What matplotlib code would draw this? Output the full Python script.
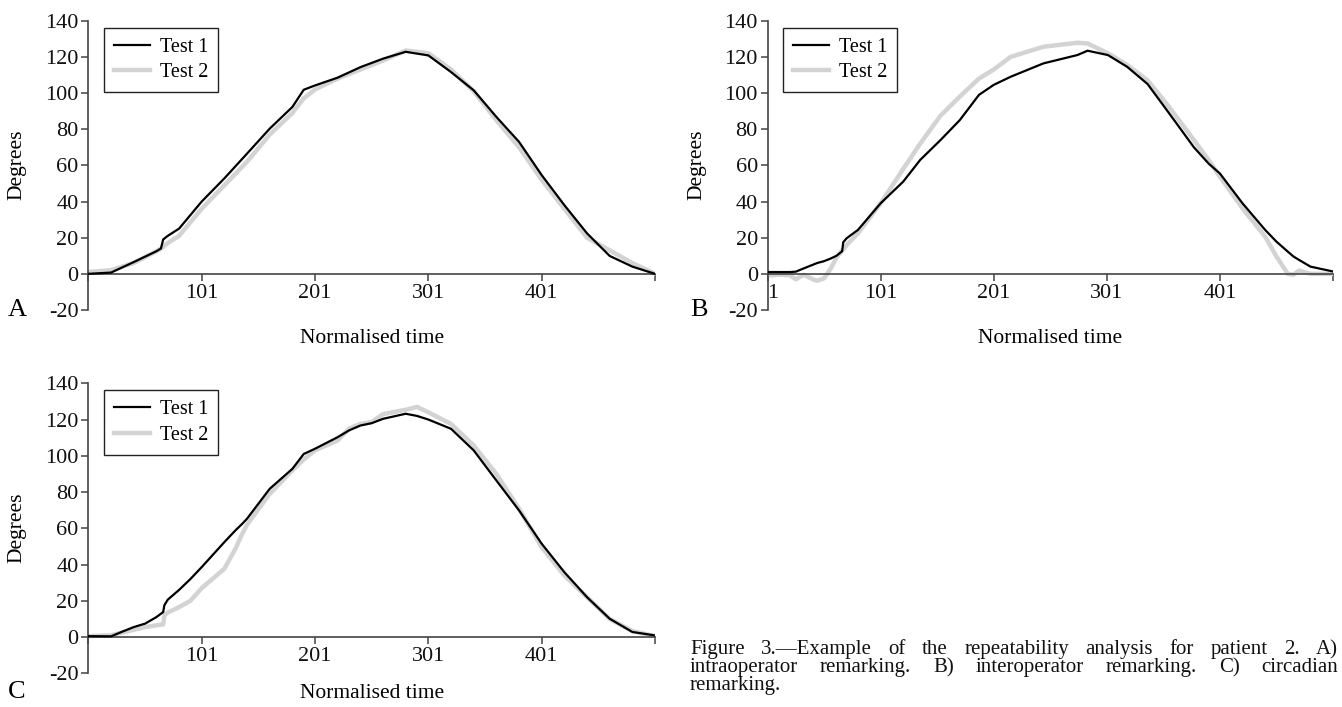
import matplotlib
matplotlib.use('Agg')
import matplotlib.pyplot as plt

plt.rcParams['font.family'] = ['Liberation Serif', 'DejaVu Serif']
plt.rcParams['axes.unicode_minus'] = False

# panel A - intraoperator
t_a = [1, 21, 41, 61, 65, 67, 71, 81, 101, 121, 141, 161, 181, 191, 201, 221, 241, 261,
       281, 301, 321, 341, 361, 381, 401, 421, 441, 461, 481, 501]
a_test1 = [0, 0.7, 6.5, 12.5, 14, 19, 21, 25, 40, 52.8, 66.5, 80.3, 92.3, 101.8, 104.2, 108.5,
           114.3, 119, 122.8, 120.8, 111.6, 101.5, 86.8, 73, 54.6, 38, 22.4, 9.9, 4, 0]
a_test2 = [1, 2, 6, 12.5, 14, 15, 17, 21, 36, 49, 62, 77, 89, 97, 102, 108, 113, 118,
           123.5, 122, 113, 101, 85, 70, 52, 36, 20, 13, 6, 0]

# panel B - interoperator
t_b = [1, 11, 21, 26, 33, 41, 45, 51, 57, 62, 67, 68, 71, 81, 101, 121, 136, 154, 171, 188,
       201, 216, 245, 275, 284, 302, 319, 337, 354, 378, 391, 401, 421, 441, 451, 461, 466,
       471, 481, 501]
b_test1 = [1, 1, 1, 1.2, 3, 5, 6, 7, 8.5, 10, 12.5, 17.5, 19.7, 24.3, 39, 51, 63, 74, 85, 99,
           104.5, 109, 116.4, 121, 123.4, 121, 114.5, 105, 90.6, 70, 61, 55.5, 39, 24.3, 17.8,
           12.3, 9.6, 7.7, 4, 1.3]
b_test2 = [-1, -0.5, -0.8, -3, -0.5, -3, -3.8, -2.5, 3, 9, 13, 13.5, 16, 22.4, 39, 58, 72,
           87.5, 98, 108, 113, 120, 125.6, 127.8, 127.4, 122, 115.5, 107, 94, 74, 63, 53.7,
           36.2, 20.6, 9.6, 0, -0.5, 1.8, 0, 0]

# panel C - circadian
t_c = [1, 21, 31, 41, 51, 61, 67, 68, 71, 81, 91, 101, 121, 131, 136, 141, 161, 181, 191,
       201, 221, 231, 241, 251, 261, 281, 291, 301, 321, 341, 361, 381, 401, 421, 441, 461,
       481, 501]
c_test1 = [0.5, 0.4, 3, 5.5, 7.4, 11, 13.8, 17.5, 20.6, 26, 32, 38.6, 52.4, 59, 62, 65.3,
           81.8, 92.8, 101, 103.9, 110.3, 114, 116.7, 118, 120.4, 123.2, 122, 120, 114.9, 103,
           86.4, 69.9, 51.5, 35.8, 22, 10.1, 2.8, 0.9]
c_test2 = [0.5, 1, 2.5, 4, 5.5, 6.5, 7, 12, 13.5, 16.5, 20, 27, 37.7, 49, 56, 62, 79, 92,
           98, 103, 108.5, 115, 117.6, 118.6, 123, 125.4, 127, 124, 117.6, 105.7, 90, 70.8,
           49.6, 34, 22, 10, 3.3, 0.5]

xticks = [1, 101, 201, 301, 401, 501]
yticks = [-20, 0, 20, 40, 60, 80, 100, 120, 140]
caption = ["Figure 3.\u2014Example of the repeatability analysis for patient 2. A)",
           "intraoperator remarking. B) interoperator remarking. C) circadian",
           "remarking."]

W, H = 1342, 707
fig = plt.figure(figsize=(W / 100, H / 100), dpi=100)
axcol = '#444444'


def px_rect(x0, ytop, x1, ybot):
    return [x0 / W, 1 - ybot / H, (x1 - x0) / W, (ybot - ytop) / H]


def panel(rect, t, s1, s2, first_label):
    ax = fig.add_axes(rect)
    l2, = ax.plot(t, s2, color='#d3d3d3', lw=3.2, zorder=2)
    l1, = ax.plot(t, s1, color='black', lw=1.6, zorder=3)
    ax.set_xlim(1, 501)
    ax.set_ylim(-20, 140)
    for s in ['top', 'right']:
        ax.spines[s].set_visible(False)
    ax.spines['bottom'].set_position(('data', 0))
    for s in ['left', 'bottom']:
        ax.spines[s].set_color(axcol)
        ax.spines[s].set_linewidth(1.2)
    ax.set_xticks(xticks)
    ax.set_xticklabels([first_label, '101', '201', '301', '401', ''])
    ax.get_xticklabels()[0].set_horizontalalignment('left')
    ax.set_yticks(yticks)
    ax.set_yticklabels([str(v) for v in yticks])
    ax.tick_params(direction='out', length=5, width=1.1, color=axcol,
                   labelsize=16, pad=2, labelcolor='#111111')
    leg = ax.legend([l1, l2], ['Test 1', 'Test 2'], loc='upper left',
                    bbox_to_anchor=(0.028, 0.976), borderaxespad=0, fontsize=14.5,
                    fancybox=False, edgecolor='#222222', framealpha=1,
                    handlelength=1.75, handletextpad=0.5, borderpad=0.5,
                    labelspacing=0.3)
    leg.get_frame().set_linewidth(1.0)
    return ax


panel(px_rect(88.4, 20.7, 655, 310), t_a, a_test1, a_test2, '')
panel(px_rect(767.5, 20.7, 1333, 310), t_b, b_test1, b_test2, '1')
panel(px_rect(88.4, 383.3, 655, 673.3), t_c, c_test1, c_test2, '')

fs = 15.5
for x, y in [(17, 165), (697, 165), (17, 528)]:
    fig.text(x / W, 1 - y / H, 'Degrees', rotation=90, ha='center', va='center', fontsize=fs)
for x, y in [(372, 338), (1050, 338), (372, 693)]:
    fig.text(x / W, 1 - y / H, 'Normalised time', ha='center', va='center', fontsize=fs)
for x, y, s in [(8, 310, 'A'), (690, 310, 'B'), (8, 692, 'C')]:
    fig.text(x / W, 1 - y / H, s, ha='left', va='center', fontsize=19)

# justified caption
cap_fs = 15
x0, x1 = 690, 1338
base = [654, 672, 690]
fig.canvas.draw()
r = fig.canvas.get_renderer()
for i, line in enumerate(caption):
    words = line.split(' ')
    texts = [fig.text(0, 1 - base[i] / H, w, fontsize=cap_fs, va='baseline', color='#111111')
             for w in words]
    widths = [tx.get_window_extent(r).width for tx in texts]
    if i < len(caption) - 1 and len(words) > 1:
        gap = (x1 - x0 - sum(widths)) / (len(words) - 1)
    else:
        gap = cap_fs * 100 / 72 * 0.25
    x = x0
    for tx, w in zip(texts, widths):
        tx.set_x(x / W)
        x += w + gap

fig.savefig('out.png', dpi=100)
